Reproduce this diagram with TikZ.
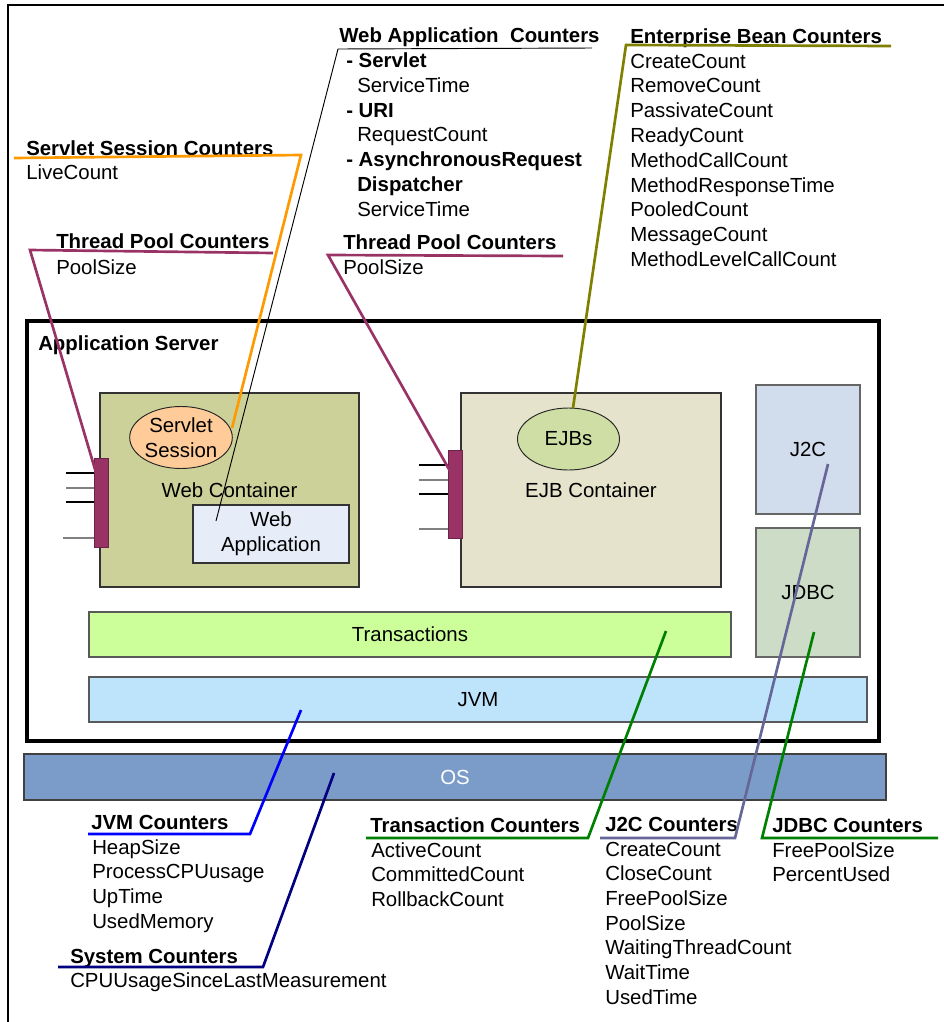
\documentclass[tikz,border=0pt]{standalone}
\usepackage{fontspec}
\setmainfont{Liberation Sans}
\usetikzlibrary{shapes.geometric}
\definecolor{wcfill}{RGB}{204,209,153}
\definecolor{ejbfill}{RGB}{229,227,204}
\definecolor{ssfill}{RGB}{255,204,153}
\definecolor{ejbsfill}{RGB}{206,222,164}
\definecolor{wafill}{RGB}{230,236,248}
\definecolor{jtwocfill}{RGB}{209,220,236}
\definecolor{jdbcfill}{RGB}{204,220,198}
\definecolor{txfill}{RGB}{204,255,153}
\definecolor{jvmfill}{RGB}{190,228,252}
\definecolor{osfill}{RGB}{123,156,201}
\definecolor{tpool}{RGB}{153,51,102}
\definecolor{orangeln}{RGB}{255,153,0}
\definecolor{oliveln}{RGB}{128,128,0}
\definecolor{greenln}{RGB}{0,128,0}
\definecolor{navyln}{RGB}{0,0,128}
\definecolor{blueln}{RGB}{0,0,255}
\definecolor{slateln}{RGB}{102,102,153}
\begin{document}
\begin{tikzpicture}[x=0.75pt,y=-0.75pt,
  font=\fontsize{15.3}{18.6}\selectfont,
  lbl/.style={anchor=base west, inner sep=0pt},
  hdr/.style={lbl, font=\fontsize{15.3}{18.6}\selectfont\bfseries},
  rbox/.style={draw=black!80, line width=0.8pt, inner sep=0pt, align=center},
  ell/.style={ellipse, draw=black!85, line width=0.7pt, inner sep=0pt, align=center, minimum width=76.5pt, minimum height=46.5pt},
  leader/.style={line width=2pt, line join=miter},
  tick/.style={line width=0.8pt}]
\useasboundingbox (0,0) rectangle (944,1022);
% outer frame (top and left)
\draw[line width=1.1pt] (944,5) -- (8,5) -- (8,1022);

% application server
\node[draw=black, line width=2.3pt, minimum width=639pt, minimum height=315pt, inner sep=0pt] (as) at (453,531) {};
\node[hdr] (astitle) at (38,350) {Application Server};

% containers
\node[rbox, fill=wcfill, minimum width=194.25pt, minimum height=145.5pt] (wc) at (229.5,490) {Web Container};
\node[rbox, fill=ejbfill, minimum width=195pt, minimum height=145.5pt] (ejbc) at (591,490) {EJB Container};
\node[ell, fill=ssfill] (ss) at (181,437.5) {Servlet\\Session};
\node[ell, fill=ejbsfill] (ejbs) at (568.5,439) {EJBs};
\node[rbox, fill=wafill, minimum width=117pt, minimum height=43.5pt] (wa) at (271,534) {Web\\Application};
\node[rbox, draw=black!60, fill=jtwocfill, minimum width=78pt, minimum height=96.75pt] (jtwoc) at (808,449.5) {J2C};
\node[rbox, draw=black!60, fill=jdbcfill, minimum width=78pt, minimum height=96.75pt] (jdbc) at (808,592.5) {JDBC};
\node[rbox, draw=black!65, fill=txfill, minimum width=481.5pt, minimum height=33.75pt] (tx) at (410,634.5) {Transactions};
\node[rbox, draw=black!65, fill=jvmfill, minimum width=583.5pt, minimum height=33.75pt] (jvm) at (478,699.5) {JVM};
\node[rbox, draw=black!75, fill=osfill, minimum width=646.5pt, minimum height=34.5pt, text=white] (os) at (455,777) {OS};

% thread pool bars
\node[draw=tpool!70!black, line width=0.7pt, fill=tpool, minimum width=10.5pt, minimum height=66.75pt, inner sep=0pt] (tpw) at (101,502.5) {};
\node[draw=tpool!70!black, line width=0.7pt, fill=tpool, minimum width=10.5pt, minimum height=66pt, inner sep=0pt] (tpe) at (455,494) {};
\draw[tick, black] (66,473) -- (tpw.west |- 0,473);
\draw[tick, black!50] (66,488) -- (tpw.west |- 0,488);
\draw[tick, black] (66,502) -- (tpw.west |- 0,502);
\draw[tick, black!50] (63,538) -- (tpw.west |- 0,538);
\draw[tick, black] (419,465) -- (tpe.west |- 0,465);
\draw[tick, black!50] (419,480) -- (tpe.west |- 0,480);
\draw[tick, black] (419,494) -- (tpe.west |- 0,494);
\draw[tick, black!50] (419,529) -- (tpe.west |- 0,529);

% ---- labels ----
\node[hdr] (sschdr) at (26,155) {Servlet Session Counters};
\node[lbl] (ssc0) at (26,179) {LiveCount};

\node[hdr] (tplhdr) at (56,248) {Thread Pool Counters};
\node[lbl] (tpl0) at (56,274) {PoolSize};

\node[hdr] (wachdr) at (339,42) {Web Application~ Counters};
\node[hdr] (wac0) at (346,67) {- Servlet};
\node[lbl] (wac1) at (357,92) {ServiceTime};
\node[hdr] (wac2) at (346,117) {- URI};
\node[lbl] (wac3) at (357,141) {RequestCount};
\node[hdr] (wac4) at (346,166) {- AsynchronousRequest};
\node[hdr] (wac5) at (357,191) {Dispatcher};
\node[lbl] (wac6) at (357,216) {ServiceTime};

\node[hdr] (tpmhdr) at (343,249) {Thread Pool Counters};
\node[lbl] (tpm0) at (343,274) {PoolSize};

\node[hdr] (ebchdr) at (630,43) {Enterprise Bean Counters};
\foreach \t [count=\i from 0] in {CreateCount,RemoveCount,PassivateCount,ReadyCount,MethodCallCount,MethodResponseTime,PooledCount,MessageCount,MethodLevelCallCount}
  \node[lbl] (ebc\i) at (630,{68+24.8*\i}) {\t};

\node[hdr] (jvmhdr) at (91,829) {JVM Counters};
\foreach \t [count=\i from 0] in {HeapSize,ProcessCPUusage,UpTime,UsedMemory}
  \node[lbl] (jvmc\i) at (92,{854+24.8*\i}) {\t};

\node[hdr] (syshdr) at (70,963) {System Counters};
\node[lbl] (sys0) at (70,987) {CPUUsageSinceLastMeasurement};

\node[hdr] (txhdr) at (370,832) {Transaction Counters};
\foreach \t [count=\i from 0] in {ActiveCount,CommittedCount,RollbackCount}
  \node[lbl] (txc\i) at (371,{857+24.8*\i}) {\t};

\node[hdr] (jtchdr) at (605,831) {J2C Counters};
\foreach \t [count=\i from 0] in {CreateCount,CloseCount,FreePoolSize,PoolSize,WaitingThreadCount,WaitTime,UsedTime}
  \node[lbl] (jtc\i) at (605,{856+24.7*\i}) {\t};

\node[hdr] (jdbchdr) at (772,832) {JDBC Counters};
\foreach \t [count=\i from 0] in {FreePoolSize,PercentUsed}
  \node[lbl] (jdc\i) at (772,{857+24.8*\i}) {\t};

% ---- leader lines ----
\coordinate (o1) at (14,158);  \coordinate (o2) at (301,155);  \coordinate (o3) at (232,428);
\coordinate (m1) at (273,253); \coordinate (m2) at (30,250);   \coordinate (m3) at (97,476);
\coordinate (k1) at (592,48);  \coordinate (k2) at (338,49);   \coordinate (k3) at (216,521);
\coordinate (n1) at (563,256); \coordinate (n2) at (328,255);  \coordinate (n3) at (450,471);
\coordinate (v1) at (891,46);  \coordinate (v2) at (626,45);   \coordinate (v3) at (573,408);
\coordinate (b1) at (88,834);  \coordinate (b2) at (250,834);  \coordinate (b3) at (301,710);
\coordinate (s1) at (58,967);  \coordinate (s2) at (263,967);  \coordinate (s3) at (334,773);
\coordinate (g1) at (366,838); \coordinate (g2) at (588,838);  \coordinate (g3) at (666,631);
\coordinate (p1) at (600,838); \coordinate (p2) at (735,838);  \coordinate (p3) at (828,464);
\coordinate (d1) at (938,838); \coordinate (d2) at (762,838);  \coordinate (d3) at (814,632);

\draw[leader, orangeln] (o1) -- (o2) -- (o3);
\draw[leader, tpool] (m1) -- (m2) -- (m3);
\draw[line width=0.7pt, black] (k1) -- (k2) -- (k3);
\draw[leader, tpool] (n1) -- (n2) -- (n3);
\draw[leader, oliveln] (v1) -- (v2) -- (v3);
\draw[leader, blueln] (b1) -- (b2) -- (b3);
\draw[leader, navyln] (s1) -- (s2) -- (s3);
\draw[leader, greenln] (g1) -- (g2) -- (g3);
\draw[leader, slateln] (p1) -- (p2) -- (p3);
\draw[leader, greenln] (d1) -- (d2) -- (d3);
\end{tikzpicture}
\end{document}
